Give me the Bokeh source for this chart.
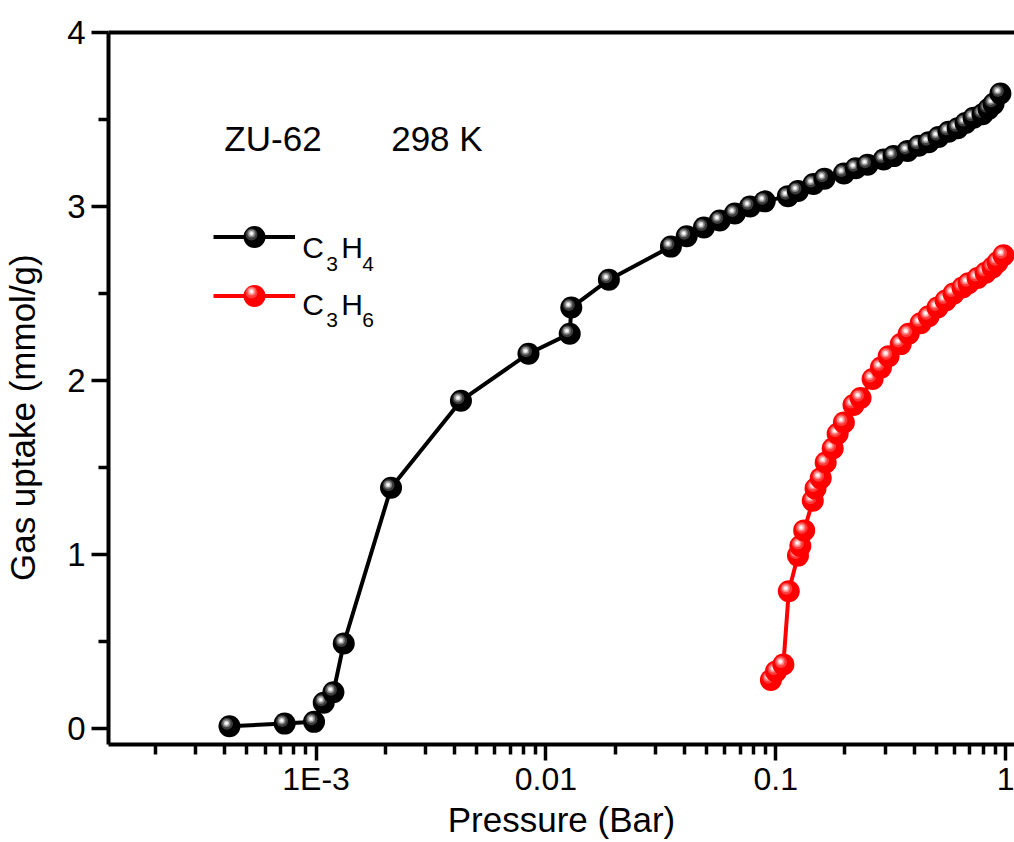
import math
from bokeh.plotting import figure
from bokeh.models import Range1d, LogAxis, FixedTicker, Label, Legend, LegendItem
from bokeh.embed import file_html
from bokeh.resources import INLINE

# ---------------- data ----------------
c3h4_pressure = [4.2e-4, 7.3e-4, 9.8e-4, 1.08e-3, 1.19e-3, 1.32e-3, 2.12e-3, 4.27e-3,
                 8.4e-3, 0.0127, 0.0129, 0.0188, 0.0350, 0.0410, 0.0487, 0.0571,
                 0.0664, 0.0773, 0.0896, 0.113, 0.125, 0.146, 0.163, 0.198, 0.223,
                 0.251, 0.295, 0.326, 0.375, 0.419, 0.463, 0.511, 0.565, 0.619,
                 0.670, 0.726, 0.794, 0.843, 0.887, 0.95]
c3h4_uptake = [0.015, 0.03, 0.04, 0.15, 0.21, 0.49, 1.385, 1.885,
               2.155, 2.27, 2.42, 2.58, 2.77, 2.83, 2.88, 2.92,
               2.96, 3.00, 3.03, 3.06, 3.09, 3.13, 3.16, 3.19, 3.22,
               3.24, 3.27, 3.29, 3.32, 3.35, 3.37, 3.40, 3.43, 3.45,
               3.48, 3.51, 3.53, 3.56, 3.59, 3.65]

c3h6_pressure = [0.0953, 0.1003, 0.108, 0.114, 0.125, 0.128, 0.133, 0.145, 0.149,
                 0.157, 0.165, 0.177, 0.186, 0.198, 0.218, 0.234, 0.264, 0.287,
                 0.31, 0.35, 0.379, 0.427, 0.463, 0.506, 0.549, 0.594, 0.65, 0.69,
                 0.756, 0.819, 0.878, 0.923, 0.98]
c3h6_uptake = [0.28, 0.33, 0.37, 0.79, 0.995, 1.05, 1.14, 1.31, 1.38,
               1.44, 1.53, 1.61, 1.695, 1.76, 1.86, 1.90, 2.01, 2.075,
               2.14, 2.21, 2.27, 2.33, 2.37, 2.42, 2.46, 2.50, 2.535, 2.56,
               2.59, 2.62, 2.65, 2.68, 2.72]

x_major_ticks = [1e-3, 1e-2, 1e-1, 1.0]
x_tick_labels = ["1E-3", "0.01", "0.1", "1"]
y_major_ticks = [0, 1, 2, 3, 4]
y_minor_ticks = [0.5, 1.5, 2.5, 3.5]

series_names = [("C", "3", "H", "4"), ("C", "3", "H", "6")]
sample_name = "ZU-62"
temperature = "298 K"
x_title = "Pressure (Bar)"
y_title = "Gas uptake (mmol/g)"

# ---------------- layout ----------------
W, H = 1014, 842
FL, FT, FR, FB = 107, 32, 1014, 744
X0, X1 = 1.25e-4, 1.094
Y0, Y1 = -0.09, 4.0
PPD = (FR - FL) / math.log10(X1 / X0)
PPU = (FB - FT) / (Y1 - Y0)
FONT = "Liberation Sans"


def px2x(px):
    return X0 * 10 ** ((px - FL) / PPD)


def py2y(py):
    return Y0 + (FB - py) / PPU


p = figure(width=W, height=H, x_axis_type="log",
           x_range=Range1d(X0, X1), y_range=Range1d(Y0, Y1),
           output_backend="svg", toolbar_location=None,
           min_border_left=FL, min_border_right=0,
           min_border_top=FT, min_border_bottom=H - FB)
p.outline_line_color = None
p.grid.visible = False
p.background_fill_color = "white"
p.border_fill_color = "white"

x_minor = [k * 10.0 ** e for e in (-4, -3, -2, -1) for k in range(2, 10)]
p.xaxis[0].ticker = FixedTicker(ticks=x_major_ticks, minor_ticks=x_minor)
p.xaxis[0].major_label_overrides = {t: l for t, l in zip(x_major_ticks, x_tick_labels)}
p.yaxis[0].ticker = FixedTicker(ticks=y_major_ticks, minor_ticks=y_minor_ticks)

for ax in (p.xaxis[0], p.yaxis[0]):
    ax.axis_line_width = 4
    ax.axis_line_color = "black"
    ax.major_tick_line_width = 3.5
    ax.minor_tick_line_width = 3.5
    ax.major_tick_out = 17
    ax.major_tick_in = 0
    ax.minor_tick_out = 10
    ax.minor_tick_in = 0
    ax.major_label_text_font = FONT
    ax.major_label_text_font_size = "33px"
    ax.major_label_text_color = "black"
    ax.major_label_text_line_height = 1.0
    ax.axis_label_text_font = FONT
    ax.axis_label_text_font_style = "normal"
    ax.axis_label_text_color = "black"
    ax.axis_label_text_line_height = 1.0

p.xaxis[0].axis_label = x_title
p.xaxis[0].major_label_text_font_size = "32px"
p.xaxis[0].axis_label_text_font_size = "35px"
p.xaxis[0].major_tick_out = 16
p.xaxis[0].major_label_standoff = 0
p.xaxis[0].axis_label_standoff = 0

# trailing no-break spaces shift the centred title down along the axis, as in the reference
p.yaxis[0].axis_label = y_title + "\u00a0" * 6
p.yaxis[0].axis_label_text_font_size = "35px"
p.yaxis[0].major_label_standoff = 6
p.yaxis[0].axis_label_standoff = 22

top = LogAxis(ticker=FixedTicker(ticks=[]), axis_line_width=4, axis_line_color="black",
              major_tick_line_color=None, minor_tick_line_color=None,
              major_label_text_font_size="0px")
p.add_layout(top, "above")

# ---------------- series ----------------
black_layers = [("#000000", 22, 0, 0), ("#3c3c3c", 12, -2.5, 2.5), ("#858585", 8, -3, 3),
                ("#d4d4d4", 5, -3, 3), ("#ffffff", 2.5, -3, 3)]
red_layers = [("#ff0000", 22, 0, 0), ("#ff3c3c", 12, -2.5, 2.5), ("#ff8585", 8, -3, 3),
              ("#ffd0d0", 5, -3, 3), ("#ffffff", 2.5, -3, 3)]

series = [(c3h4_pressure, c3h4_uptake, "#000000", black_layers),
          (c3h6_pressure, c3h6_uptake, "#ff0000", red_layers)]

line_renderers = []
first_layer_renderers = []
for xs, ys, col, layers in series:
    lr = p.line(xs, ys, line_color=col, line_width=4)
    line_renderers.append(lr)
    firsts = [None] * len(layers)
    for xi, yi in zip(xs, ys):
        for li, (fc, sz, dx, dy) in enumerate(layers):
            r = p.scatter(x=[xi * 10 ** (dx / PPD)], y=[yi + dy / PPU], size=sz,
                          fill_color=fc, line_color=None)
            if firsts[li] is None:
                firsts[li] = r
    first_layer_renderers.append(firsts)

# ---------------- legend swatches ----------------
C1, C2 = 236.0, 294.5
PITCH = C2 - C1
CX, GW = 252.5, 82
n_layers = len(black_layers)
for li in range(n_layers):
    sz, dx, dy = black_layers[li][1], black_layers[li][2], black_layers[li][3]
    gh = int(round(sz / 0.4))
    sp = int(round(PITCH - gh))
    top_px = (C1 - dy) - gh / 2
    vy = FB - (top_px + 2 * gh + sp)
    vx = (CX + dx - GW / 2) - FL
    items = []
    for si in range(2):
        rs = [first_layer_renderers[si][li]]
        if li == 0:
            rs = [line_renderers[si]] + rs
        items.append(LegendItem(label=" ", renderers=rs))
    leg = Legend(items=items, location=(float(vx), float(vy)), glyph_width=GW, glyph_height=gh,
                 spacing=sp, padding=0, margin=0, label_standoff=0,
                 label_width=0, label_height=0, label_text_font_size="1px",
                 border_line_color=None, background_fill_alpha=0)
    p.add_layout(leg, "center")

# ---------------- texts ----------------
pieces_x = [301, 325, 340, 361]
for si, name in enumerate(series_names):
    base_y = 247 + si * 56.5
    for k, (txt, xpx) in enumerate(zip(name, pieces_x)):
        sub = k % 2 == 1
        p.add_layout(Label(x=px2x(xpx), y=py2y(base_y + (16 if sub else 0)), text=txt,
                           text_font=FONT, text_font_size="21px" if sub else "30px",
                           text_align="left", text_baseline="alphabetic", text_color="black"))

p.add_layout(Label(x=px2x(223), y=py2y(138), text=sample_name, text_font=FONT,
                   text_font_size="35px", text_align="left", text_baseline="alphabetic",
                   text_color="black"))
p.add_layout(Label(x=px2x(390), y=py2y(138), text=temperature, text_font=FONT,
                   text_font_size="35px", text_align="left", text_baseline="alphabetic",
                   text_color="black"))

open("out.html", "w").write(file_html(p, INLINE))
